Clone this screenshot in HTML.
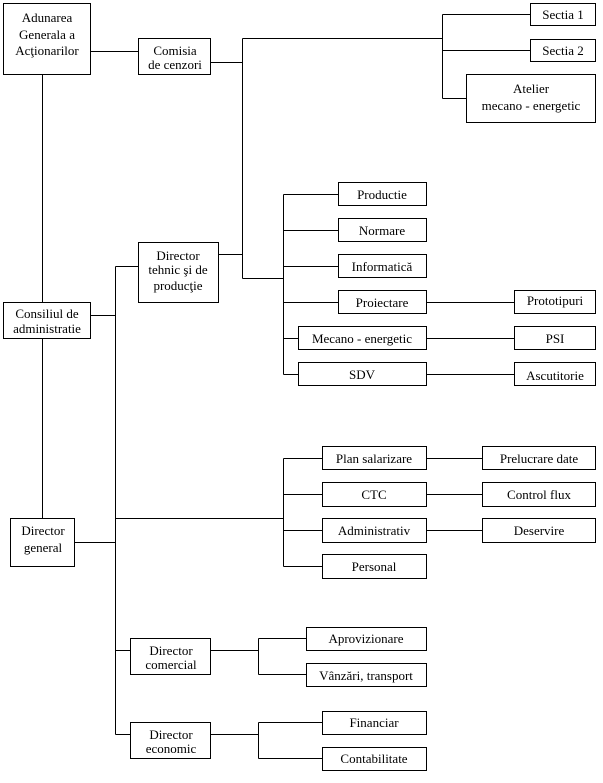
<!DOCTYPE html>
<html><head><meta charset="utf-8"><style>
html,body{margin:0;padding:0;background:#fff}
svg{display:block}
text{font-family:"Liberation Serif",serif;font-size:13px;fill:#000;text-anchor:middle}
</style></head><body>
<svg width="603" height="783" viewBox="0 0 603 783" xmlns="http://www.w3.org/2000/svg">
<g fill="#fff" stroke="#000" stroke-width="1" shape-rendering="crispEdges">
<rect x="3.5" y="3.5" width="87" height="71"/>
<rect x="138.5" y="38.5" width="72" height="36"/>
<rect x="530.5" y="3.5" width="65" height="22"/>
<rect x="530.5" y="39.5" width="65" height="22"/>
<rect x="466.5" y="74.5" width="129" height="48"/>
<rect x="138.5" y="242.5" width="80" height="60"/>
<rect x="3.5" y="302.5" width="87" height="36"/>
<rect x="338.5" y="182.5" width="88" height="23"/>
<rect x="338.5" y="218.5" width="88" height="23"/>
<rect x="338.5" y="254.5" width="88" height="23"/>
<rect x="338.5" y="290.5" width="88" height="23"/>
<rect x="298.5" y="326.5" width="128" height="23"/>
<rect x="298.5" y="362.5" width="128" height="23"/>
<rect x="514.5" y="290.5" width="81" height="23"/>
<rect x="514.5" y="326.5" width="81" height="23"/>
<rect x="514.5" y="362.5" width="81" height="23"/>
<rect x="322.5" y="446.5" width="104" height="23"/>
<rect x="322.5" y="482.5" width="104" height="24"/>
<rect x="322.5" y="518.5" width="104" height="24"/>
<rect x="322.5" y="554.5" width="104" height="24"/>
<rect x="482.5" y="446.5" width="113" height="23"/>
<rect x="482.5" y="482.5" width="113" height="24"/>
<rect x="482.5" y="518.5" width="113" height="24"/>
<rect x="10.5" y="518.5" width="64" height="48"/>
<rect x="130.5" y="638.5" width="80" height="36"/>
<rect x="130.5" y="722.5" width="80" height="36"/>
<rect x="306.5" y="627.5" width="120" height="23"/>
<rect x="306.5" y="663.5" width="120" height="23"/>
<rect x="322.5" y="711.5" width="104" height="23"/>
<rect x="322.5" y="747.5" width="104" height="23"/>
</g>
<g fill="none" stroke="#000" stroke-width="1" shape-rendering="crispEdges">
<path d="M90.5 51.5H138.5 M210.5 62.5H242.5 M242.5 38.5V278.5 M242.5 38.5H442.5 M442.5 14.5V98.5 M442.5 14.5H530.5 M442.5 50.5H530.5 M442.5 98.5H466.5"/>
<path d="M218.5 254.5H242.5 M242.5 278.5H283.5 M283.5 194.5V374.5 M283.5 194.5H338.5 M283.5 230.5H338.5 M283.5 266.5H338.5 M283.5 302.5H338.5 M283.5 338.5H298.5 M283.5 374.5H298.5 M426.5 302.5H514.5 M426.5 338.5H514.5 M426.5 374.5H514.5"/>
<path d="M42.5 74.5V302.5 M42.5 338.5V518.5 M90.5 315.5H115.5 M115.5 266.5V734.5 M115.5 266.5H138.5 M74.5 542.5H115.5 M115.5 518.5H283.5 M283.5 458.5V566.5 M283.5 458.5H322.5 M283.5 494.5H322.5 M283.5 530.5H322.5 M283.5 566.5H322.5 M426.5 458.5H482.5 M426.5 494.5H482.5 M426.5 530.5H482.5"/>
<path d="M115.5 650.5H130.5 M115.5 734.5H130.5 M210.5 650.5H258.5 M258.5 638.5V674.5 M258.5 638.5H306.5 M258.5 674.5H306.5 M210.5 734.5H258.5 M258.5 722.5V758.5 M258.5 722.5H322.5 M258.5 758.5H322.5"/>
</g>
<text x="47" y="22">Adunarea</text>
<text x="47" y="39">Generala a</text>
<text x="47" y="55">Acţionarilor</text>
<text x="175" y="55">Comisia</text>
<text x="175" y="69">de cenzori</text>
<text x="563" y="19">Sectia 1</text>
<text x="563" y="55">Sectia 2</text>
<text x="531" y="93">Atelier</text>
<text x="531" y="110">mecano - energetic</text>
<text x="178" y="260">Director</text>
<text x="178" y="274">tehnic şi de</text>
<text x="178" y="290">producţie</text>
<text x="47" y="318">Consiliul de</text>
<text x="47" y="333">administratie</text>
<text x="382" y="199">Productie</text>
<text x="382" y="235">Normare</text>
<text x="382" y="271">Informatică</text>
<text x="382" y="307">Proiectare</text>
<text x="362" y="343">Mecano - energetic</text>
<text x="362" y="379">SDV</text>
<text x="555" y="305">Prototipuri</text>
<text x="555" y="343">PSI</text>
<text x="555" y="380">Ascutitorie</text>
<text x="374" y="463">Plan salarizare</text>
<text x="374" y="499">CTC</text>
<text x="374" y="535">Administrativ</text>
<text x="374" y="571">Personal</text>
<text x="539" y="463">Prelucrare date</text>
<text x="539" y="499">Control flux</text>
<text x="539" y="535">Deservire</text>
<text x="43" y="535">Director</text>
<text x="43" y="552">general</text>
<text x="171" y="655">Director</text>
<text x="171" y="669">comercial</text>
<text x="171" y="739">Director</text>
<text x="171" y="753">economic</text>
<text x="366" y="643">Aprovizionare</text>
<text x="366" y="680">Vânzări, transport</text>
<text x="374" y="727">Financiar</text>
<text x="374" y="763">Contabilitate</text>
</svg>
</body></html>
